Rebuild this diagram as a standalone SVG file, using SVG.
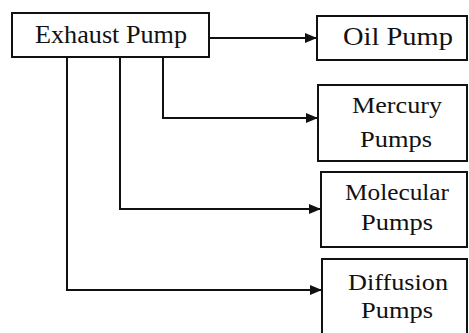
<svg xmlns="http://www.w3.org/2000/svg" width="469" height="333" viewBox="0 0 469 333">
<style>
.box{fill:#fff;stroke:#111;stroke-width:2}
.t{font-family:"Liberation Serif","Times New Roman",serif;fill:#111;text-anchor:middle}
.big{font-size:26px}
.sm{font-size:23px}
.c{fill:none;stroke:#111;stroke-width:2}
</style>
<defs>
<marker id="ah" viewBox="0 0 12 10" refX="12" refY="5" markerWidth="12" markerHeight="10" markerUnits="userSpaceOnUse" orient="auto">
<path d="M0,0 L12,5 L0,10 z" fill="#111"/>
</marker>
</defs>
<rect width="469" height="333" fill="#fff"/>
<g id="connectors">
<path class="c" d="M210,38 H317" marker-end="url(#ah)"/>
<path class="c" d="M163,57 V118 H318" marker-end="url(#ah)"/>
<path class="c" d="M120,57 V209 H321" marker-end="url(#ah)"/>
<path class="c" d="M67,57 V290 H322" marker-end="url(#ah)"/>
</g>
<g id="exhaust">
<rect class="box" x="12" y="13" width="197" height="44"/>
<text class="t big" x="111" y="43" textLength="152" lengthAdjust="spacingAndGlyphs">Exhaust Pump</text>
</g>
<g id="oil">
<rect class="box" x="317" y="16" width="150" height="44"/>
<text class="t big" x="398" y="45" textLength="110" lengthAdjust="spacingAndGlyphs">Oil Pump</text>
</g>
<g id="mercury">
<rect class="box" x="318" y="85" width="149" height="76"/>
<text class="t sm" x="397" y="113" textLength="90" lengthAdjust="spacingAndGlyphs">Mercury</text>
<text class="t sm" x="396" y="147" textLength="72" lengthAdjust="spacingAndGlyphs">Pumps</text>
</g>
<g id="molecular">
<rect class="box" x="321" y="172" width="146" height="75"/>
<text class="t sm" x="397" y="200" textLength="104" lengthAdjust="spacingAndGlyphs">Molecular</text>
<text class="t sm" x="397" y="230" textLength="72" lengthAdjust="spacingAndGlyphs">Pumps</text>
</g>
<g id="diffusion">
<rect class="box" x="322" y="259" width="145" height="85"/>
<text class="t sm" x="398" y="290" textLength="100" lengthAdjust="spacingAndGlyphs">Diffusion</text>
<text class="t sm" x="397" y="318" textLength="72" lengthAdjust="spacingAndGlyphs">Pumps</text>
</g>
</svg>
